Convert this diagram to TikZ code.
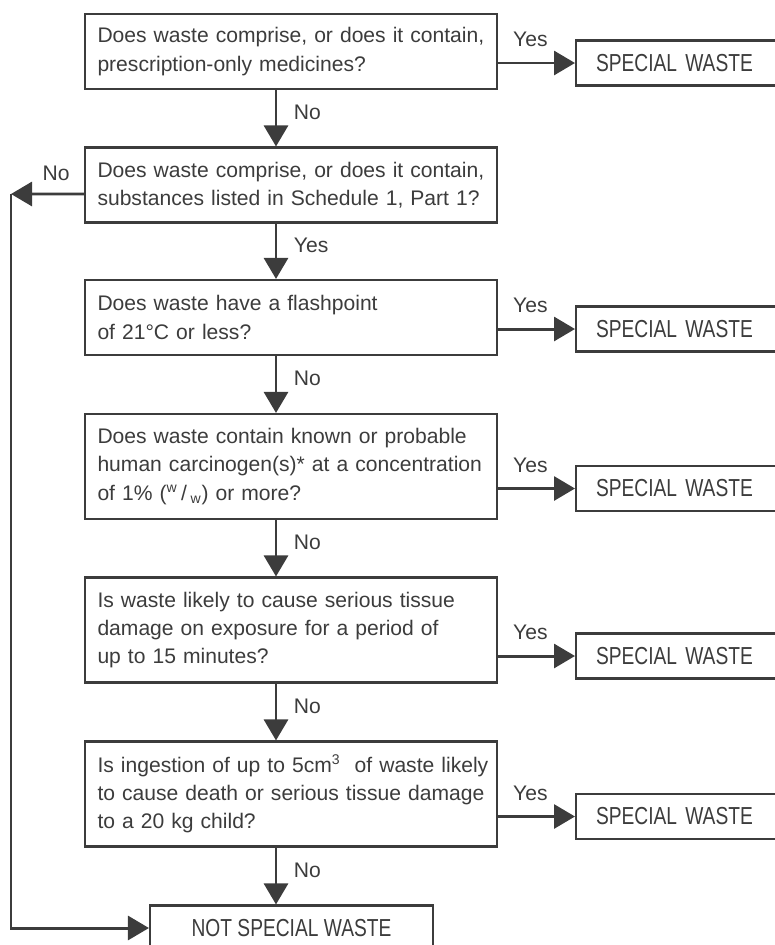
\documentclass[tikz,border=0pt]{standalone}
\usepackage{fontspec}
\setmainfont{Liberation Sans}
\newfontfamily\swcaps[FakeStretch=0.78]{Liberation Sans}
\definecolor{swink}{RGB}{60,60,60}
\usetikzlibrary{arrows.meta,positioning}

\begin{document}
\begin{tikzpicture}[
  swq/.style={draw=swink,line width=1.2pt,text=swink,minimum width=8.24cm,
    text width=7.74cm,inner xsep=0.25cm,align=left,
    font=\fontsize{12}{16}\selectfont},
  swout/.style={draw=swink,line width=1.2pt,text=swink,minimum height=0.9cm,
    inner xsep=0.4cm,font=\swcaps\fontsize{14}{16}\selectfont},
  swarr/.style={-{Triangle[length=0.42cm,width=0.48cm]},line width=1.7pt,swink},
  swlbl/.style={text=swink,font=\fontsize{12}{14}\selectfont}
]
  \useasboundingbox (0,0) rectangle (15.5,-18.9);
  \clip (0,0) rectangle (15.5,-18.9);

  % Questions
  \node[swq,minimum height=1.5cm] (q1) at (5.82,-1.03) {
    Does waste comprise, or does it contain,\\
    prescription-only medicines?};
  \node[swq,minimum height=1.5cm] (q2) at (5.82,-3.70) {
    Does waste comprise, or does it contain,\\
    substances listed in Schedule 1, Part 1?};
  \node[swq,minimum height=1.5cm] (q3) at (5.82,-6.35) {
    Does waste have a flashpoint\\
    of 21°C or less?};
  \node[swq,minimum height=2.1cm] (q4) at (5.82,-9.33) {
    Does waste contain known or probable\\
    human carcinogen(s)* at a concentration\\
    of 1\% (\textsuperscript{w}\,/\,\textsubscript{w}) or more?};
  \node[swq,minimum height=2.1cm] (q5) at (5.82,-12.60) {
    Is waste likely to cause serious tissue\\
    damage on exposure for a period of\\
    up to 15 minutes?};
  \node[swq,minimum height=2.1cm] (q6) at (5.82,-15.88) {
    \mbox{Is ingestion of up to 5cm\textsuperscript{3}\ \ of waste likely}\\
    to cause death or serious tissue damage\\
    to a 20 kg child?};

  % Outcomes
  \node[swout,anchor=west,text width=3.6cm,align=left] (sw1) at (11.5,-1.26) {SPECIAL WASTE};
  \node[swout,anchor=west,text width=3.6cm,align=left] (sw2) at (11.5,-6.58) {SPECIAL WASTE};
  \node[swout,anchor=west,text width=3.6cm,align=left] (sw3) at (11.5,-9.77) {SPECIAL WASTE};
  \node[swout,anchor=west,text width=3.6cm,align=left] (sw4) at (11.5,-13.12) {SPECIAL WASTE};
  \node[swout,anchor=west,text width=3.6cm,align=left] (sw5) at (11.5,-16.33) {SPECIAL WASTE};
  \node[swout,minimum width=5.66cm] (nsw) at (5.83,-18.56) {NOT SPECIAL WASTE};

  \coordinate (axis) at (5.52,0);
  \coordinate (loop) at (0.22,-3.88);

  % Down the chain
  \draw[swarr] (q1.south -| axis) -- node[swlbl,pos=0.4,right=6pt] {No} (q2.north -| axis);
  \draw[swarr] (q2.south -| axis) -- node[swlbl,pos=0.4,right=6pt] {Yes} (q3.north -| axis);
  \draw[swarr] (q3.south -| axis) -- node[swlbl,pos=0.4,right=6pt] {No} (q4.north -| axis);
  \draw[swarr] (q4.south -| axis) -- node[swlbl,pos=0.4,right=6pt] {No} (q5.north -| axis);
  \draw[swarr] (q5.south -| axis) -- node[swlbl,pos=0.4,right=6pt] {No} (q6.north -| axis);
  \draw[swarr] (q6.south -| axis) -- node[swlbl,pos=0.4,right=6pt] {No} (nsw.north -| axis);

  % Yes branches
  \draw[swarr] (q1.east |- sw1.west) -- node[swlbl,pos=0.42,above=5pt] {Yes} (sw1.west);
  \draw[swarr] (q3.east |- sw2.west) -- node[swlbl,pos=0.42,above=5pt] {Yes} (sw2.west);
  \draw[swarr] (q4.east |- sw3.west) -- node[swlbl,pos=0.42,above=5pt] {Yes} (sw3.west);
  \draw[swarr] (q5.east |- sw4.west) -- node[swlbl,pos=0.42,above=5pt] {Yes} (sw4.west);
  \draw[swarr] (q6.east |- sw5.west) -- node[swlbl,pos=0.42,above=5pt] {Yes} (sw5.west);

  % Schedule 1 bypass
  \draw[swarr] ([yshift=-0.18cm]q2.west) -- node[swlbl,pos=0.38,above=3.5pt] {No} (loop);
  \draw[swarr] (loop) |- (nsw.west);
\end{tikzpicture}
\end{document}
